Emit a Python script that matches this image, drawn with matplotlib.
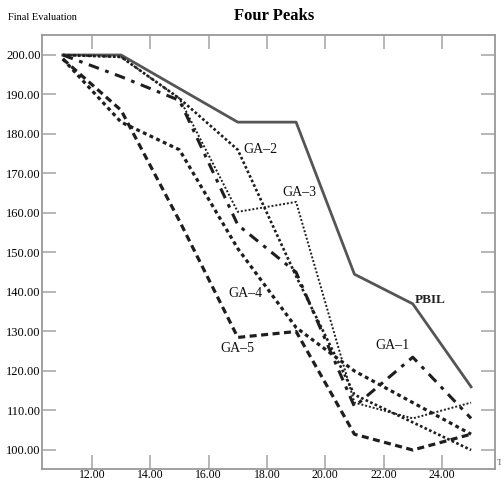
import matplotlib
matplotlib.use("Agg")
import matplotlib.pyplot as plt

# generations on x axis
gens = [11, 13, 15, 17, 19, 21, 23, 25]

pbil = [200.0, 200.0, 191.5, 183.0, 183.0, 144.5, 137.0, 116.0]
ga1 = [200.0, 194.5, 188.5, 157.0, 145.0, 111.0, 123.5, 108.0]
ga2 = [200.0, 199.5, 189.0, 176.0, 144.0, 114.0, 107.0, 100.0]
ga3 = [200.0, 199.5, 189.0, 160.3, 162.8, 112.0, 108.0, 112.0]
ga4 = [199.0, 183.0, 176.0, 151.0, 131.0, 120.0, 112.0, 104.0]
ga5 = [199.0, 186.0, 158.0, 128.5, 130.0, 104.0, 100.0, 104.0]

x_ticks = [12, 14, 16, 18, 20, 22, 24]
y_ticks = [100, 110, 120, 130, 140, 150, 160, 170, 180, 190, 200]

serif = ["Liberation Serif", "DejaVu Serif"]
plt.rcParams["font.family"] = serif

fig = plt.figure(figsize=(5.01, 4.80), dpi=100)
ax = fig.add_axes([0.084, 0.023, 0.904, 0.904])

dark = "#1e1e1e"
ax.plot(gens, pbil, color="#555555", lw=2.0, linestyle="-")
ax.plot(gens, ga1, color=dark, lw=2.2, dashes=(3.5, 2.2, 1.2, 2.2))
ax.plot(gens, ga2, color=dark, lw=1.9, dashes=(1, 0.9))
ax.plot(gens, ga3, color=dark, lw=1.4, dashes=(1, 1.0))
ax.plot(gens, ga4, color=dark, lw=2.3, dashes=(1.2, 1.1))
ax.plot(gens, ga5, color=dark, lw=2.3, dashes=(2.2, 1.4))

# series labels
lab = dict(fontsize=10, color="#111111")
ax.text(17.2, 176, "GA\u20132", ha="left", va="center", **lab)
ax.text(19.1, 165.3, "GA\u20133", ha="center", va="center", **lab)
ax.text(17.28, 139.5, "GA\u20134", ha="center", va="center", **lab)
ax.text(17.0, 125.6, "GA\u20135", ha="center", va="center", **lab)
ax.text(22.3, 126.5, "GA\u20131", ha="center", va="center", **lab)
ax.text(23.6, 138.0, "PBIL", ha="center", va="center", fontsize=9.5,
        fontweight="bold", color="#222222")

ax.set_xlim(10.29, 25.82)
ax.set_ylim(95.2, 205.05)
ax.set_xticks(x_ticks)
ax.set_yticks(y_ticks)
ax.set_xticklabels([f"{v:.2f}" for v in x_ticks], fontsize=8.5)
ax.set_yticklabels([f"{v:.2f}" for v in y_ticks], fontsize=9)
ax.tick_params(axis="x", direction="in", length=10, width=1.2,
               color="#aaaaaa", top=True, pad=0)
ax.tick_params(axis="y", direction="in", length=10, width=1.2,
               color="#aaaaaa", right=True, pad=1)
for s in ax.spines.values():
    s.set_color("#999999")
    s.set_linewidth(1.3)

fig.text(0.547, 0.966, "Four Peaks", ha="center", va="center",
         fontsize=12, fontweight="bold")
fig.text(0.016, 0.964, "Final Evaluation", ha="left", va="center",
         fontsize=7.5)
fig.text(0.992, 0.036, "T", ha="left", va="center", fontsize=6.5,
         color="#555555")

fig.savefig("out.png", dpi=100)
